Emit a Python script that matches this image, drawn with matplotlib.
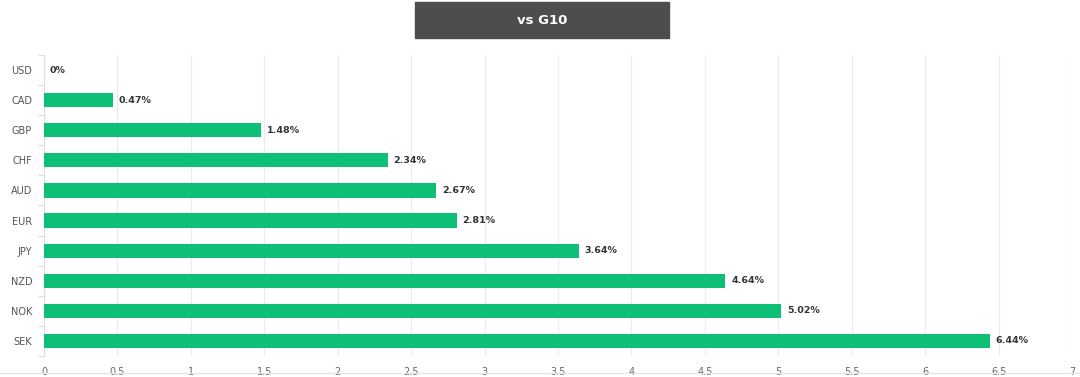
import matplotlib.pyplot as plt
import numpy as np

currencies = ['USD', 'CAD', 'GBP', 'CHF', 'AUD', 'EUR', 'JPY', 'NZD', 'NOK', 'SEK']
values = [0, 0.47, 1.48, 2.34, 2.67, 2.81, 3.64, 4.64, 5.02, 6.44]
labels = ['0%', '0.47%', '1.48%', '2.34%', '2.67%', '2.81%', '3.64%', '4.64%', '5.02%', '6.44%']
xticks = [0, 0.5, 1, 1.5, 2, 2.5, 3, 3.5, 4, 4.5, 5, 5.5, 6, 6.5, 7]

fig = plt.figure(figsize=(10.8, 3.77), dpi=100)
ax = fig.add_axes([44 / 1080, 1 - 356 / 377, 1028 / 1080, 301 / 377])

y = np.arange(len(currencies))
ax.barh(y, values, height=0.47, color='#0ebf77', zorder=3)
for yi, v, lab in zip(y, values, labels):
    ax.text(v + 0.04, yi, lab, va='center', ha='left', fontsize=6.8,
            fontweight='bold', color='#333333')

ax.set_ylim(len(currencies) - 0.5, -0.5)
ax.set_xlim(0, 7)
ax.set_yticks(y)
ax.set_yticklabels(currencies)
ax.set_yticks(np.arange(-0.5, len(currencies), 1), minor=True)
ax.tick_params(axis='y', which='major', length=0, pad=8.5, labelsize=7, labelcolor='#555555')
ax.tick_params(axis='y', which='minor', length=4, color='#dddddd', width=0.8)
ax.set_xticks(xticks)
ax.set_xticklabels([f'{t:g}' for t in xticks])
ax.tick_params(axis='x', length=0, pad=8, labelsize=7, labelcolor='#666666')

ax.grid(axis='x', color='#ececec', linewidth=0.8, zorder=0)
for s in ['top', 'right', 'bottom']:
    ax.spines[s].set_visible(False)
ax.spines['left'].set_color('#dddddd')
ax.spines['left'].set_linewidth(0.8)

# faint base line at the bottom of the figure
fig.add_artist(plt.Line2D([0, 1], [1 - 373 / 377] * 2, color='#e6e6e6', linewidth=1))

# title box
fig.patches.append(plt.Rectangle((415 / 1080, 1 - 38 / 377), 254 / 1080, 36 / 377,
                                 transform=fig.transFigure, color='#4d4d4d'))
fig.text(542 / 1080, 1 - 20 / 377, 'vs G10', ha='center', va='center',
         color='white', fontsize=9.5, fontweight='bold')

fig.savefig('out.png', dpi=100)
